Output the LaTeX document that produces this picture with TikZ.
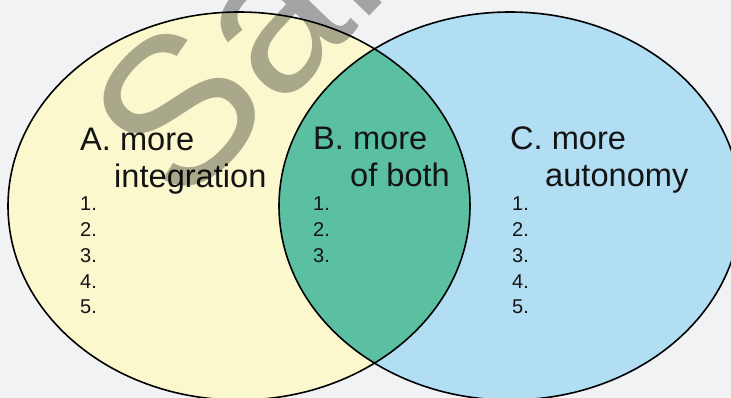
\documentclass[tikz,border=0pt]{standalone}
\usepackage{fontspec}
\setmainfont{Liberation Sans}
\usetikzlibrary{shapes.geometric}
\definecolor{bgc}{HTML}{F1F2F4}
\definecolor{yel}{HTML}{FCF8CE}
\definecolor{blu}{HTML}{B1DEF3}
\definecolor{tea}{HTML}{5BBFA1}
\begin{document}
\begin{tikzpicture}[x=1pt,y=-1pt,
  head/.style={anchor=base west,inner sep=0pt,font=\fontsize{32.6}{36}\selectfont,text=black!92},
  nums/.style={anchor=base west,inner sep=0pt,align=left,font=\fontsize{20}{25.75}\selectfont,text=black!92},
  outline/.style={draw=black,line width=1.6pt}]
\fill[bgc] (0,0) rectangle (731,398);
\useasboundingbox (0,0) rectangle (731,398);
\begin{scope}
\clip (0,0) rectangle (731,398);
\fill[yel] (239,206) ellipse [x radius=231, y radius=194];
\fill[blu] (510,206) ellipse [x radius=231, y radius=194];
\begin{scope}
\clip (239,206) ellipse [x radius=231, y radius=194];
\fill[tea] (510,206) ellipse [x radius=231, y radius=194];
\end{scope}
\draw[outline] (239,206) ellipse [x radius=231, y radius=194];
\draw[outline] (510,206) ellipse [x radius=231, y radius=194];
\end{scope}
% column A
\node[head] (a1) at (80,151) {A. more};
\node[head] (a2) at (114,188) {integration};
\node[nums,anchor=north west] (an) at (80,197) {1.\\2.\\3.\\4.\\5.};
% column B
\node[head] (b1) at (313,150) {B. more};
\node[head] (b2) at (350,187) {of both};
\node[nums,anchor=north west] (bn) at (313,197) {1.\\2.\\3.};
% column C
\node[head] (c1) at (510,150) {C. more};
\node[head] (c2) at (545,187) {autonomy};
\node[nums,anchor=north west] (cn) at (512,197) {1.\\2.\\3.\\4.\\5.};
% watermark
\begin{scope}
\clip (0,0) rectangle (731,398);
\node[rotate=46,anchor=base west,inner sep=0pt,text=black,text opacity=0.32,
  font=\fontsize{210}{210}\selectfont] (wm) at (181,211) {Sample};
\end{scope}
\end{tikzpicture}
\end{document}
